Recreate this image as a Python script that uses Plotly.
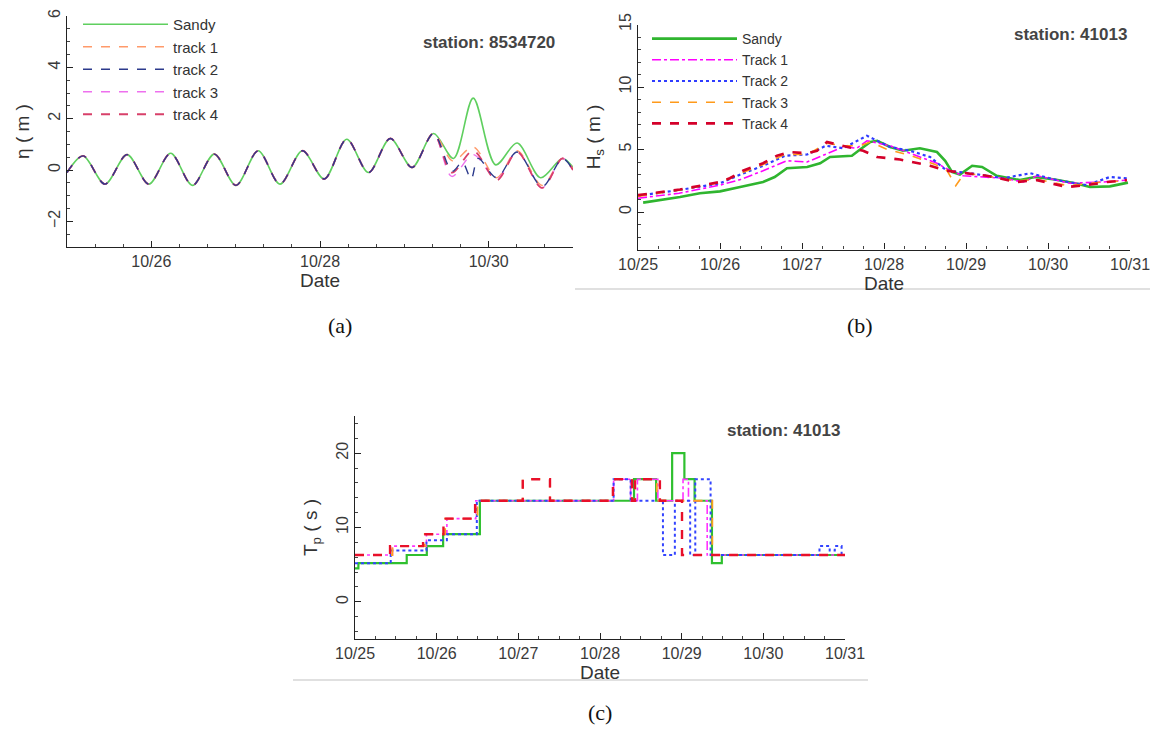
import pandas as pd
import plotly.graph_objects as go

START = pd.Timestamp("2012-10-25 00:00")
END = pd.Timestamp("2012-10-31 00:00")

# ---------------- (a) water level eta (m), station 8534720 ----------------
# hours after 10/25 00:00 and values read at tidal extrema
eta_common_hours = [0, 4.6, 10.8, 17.1, 23.3, 29.5, 35.7, 41.9, 48.1, 54.4,
                    60.6, 67.0, 73.2, 79.6, 85.8, 92.0, 98.2, 104.3]
eta_common = [-0.1, 0.55, -0.55, 0.6, -0.55, 0.65, -0.6, 0.62, -0.6, 0.75,
              -0.55, 0.75, -0.35, 1.2, -0.1, 1.23, 0.1, 1.42]

eta_sandy_hours = [110.0, 115.6, 122.0, 128.1, 134.8, 141.0, 144.0]
eta_sandy = [0.45, 2.8, 0.2, 1.05, -0.3, 0.45, 0.1]
eta_track1_hours = [109.8, 115.6, 122.3, 128.1, 135.2, 141.0, 144.0]
eta_track1 = [0.35, 0.9, -0.3, 0.75, -0.6, 0.45, 0.05]
eta_track2_hours = [109.6, 112.5, 115.0, 117.0, 122.3, 128.1, 135.2, 141.0, 144.0]
eta_track2 = [-0.05, 0.3, -0.35, 0.45, -0.3, 0.7, -0.65, 0.45, 0.0]
eta_track3_hours = [109.5, 115.6, 122.3, 128.1, 135.2, 141.0, 144.0]
eta_track3 = [-0.25, 0.6, -0.35, 0.7, -0.7, 0.45, 0.0]
eta_track4_hours = [109.5, 115.6, 122.3, 128.1, 135.2, 141.0, 144.0]
eta_track4 = [-0.1, 0.75, -0.4, 0.7, -0.7, 0.45, 0.0]

# ---------------- (b) significant wave height Hs (m), station 41013 ----------------
hs_sandy_hours = [1.5, 6.4, 12.3, 18.1, 24, 29.9, 36.6, 40, 43.6, 49.5, 53.3, 56.2, 62.6, 65,
                  68, 70, 73.8, 77.6, 82.5, 87.5, 89.9, 91.9, 94.2, 97.8, 100.7, 105, 111.8,
                  116.2, 122, 127.9, 132.3, 138.1, 143.4]
hs_sandy = [0.75, 0.95, 1.2, 1.5, 1.65, 2.0, 2.4, 2.8, 3.5, 3.6, 3.9, 4.4, 4.5, 5.0,
            5.6, 5.7, 5.2, 4.9, 5.1, 4.8, 4.1, 3.2, 3.0, 3.7, 3.6, 2.9, 2.55,
            2.8, 2.6, 2.3, 2.0, 2.05, 2.35]
hs_track1_hours = [0, 12, 24, 30, 36.6, 43.6, 49.5, 56.2, 60, 64, 67, 73.8, 79.6, 87.5,
                   91.4, 95.2, 106.9, 112.8, 116.8, 126.4, 136.1, 143.1]
hs_track1 = [1.1, 1.5, 2.15, 2.6, 3.3, 4.1, 4.0, 4.8, 5.2, 5.1, 5.7, 5.3, 4.7, 3.9,
             3.3, 2.9, 2.7, 2.4, 2.9, 2.3, 2.4, 2.55]
hs_track2_hours = [0, 12, 24, 30, 36.6, 43, 49.5, 55, 60, 64, 67, 68.5, 73.8, 79.6, 85.5,
                   90.4, 97.2, 106.9, 114.8, 122.7, 131.4, 138.1, 143.1]
hs_track2 = [1.3, 1.75, 2.3, 3.0, 3.7, 4.5, 4.6, 5.3, 5.1, 5.7, 6.1, 5.9, 5.2, 4.9, 4.4,
             3.3, 3.1, 2.7, 3.1, 2.55, 2.15, 2.8, 2.7]
hs_track3_hours = [0, 12, 24, 30, 36.6, 43, 49.5, 55.3, 60, 65, 68, 73, 80, 87, 90.5,
                   93, 95.5, 102, 110, 117, 126, 136, 143]
hs_track3 = [1.25, 1.75, 2.35, 3.1, 3.8, 4.6, 4.6, 5.5, 5.3, 5.3, 5.6, 5.0, 4.5, 3.8, 3.3,
             2.1, 3.1, 2.9, 2.5, 2.6, 2.1, 2.4, 2.5]
hs_track4_hours = [0, 12.3, 24, 26.9, 30.7, 36.6, 40.7, 44.5, 49.5, 52.4, 55.3, 60, 62.9,
                   65.9, 70, 76.7, 85.5, 90.4, 93.4, 102.1, 110.9, 116.8, 125.6, 131.4,
                   137.3, 143.1]
hs_track4 = [1.35, 1.8, 2.4, 2.7, 3.3, 3.9, 4.5, 4.8, 4.7, 4.9, 5.6, 5.3, 5.1,
             4.9, 4.4, 4.2, 3.7, 3.3, 3.2, 2.9, 2.4, 2.55, 2.0, 2.15,
             2.4, 2.55]

# ---------------- (c) peak period Tp (s), station 41013 (step changes) ----------------
tp_sandy_hours = [0, 1, 15.2, 21.1, 25.9, 36.7, 82, 88.5, 93.2, 96.8, 99.8, 104.9, 107.8, 144]
tp_sandy = [4.5, 5.2, 6.3, 7.5, 9.1, 13.6, 16.5, 13.6, 20.0, 16.5, 13.6, 5.2, 6.3, 6.3]
tp_track1_hours = [0, 11, 21, 27, 35.5, 76, 81, 83, 89, 96.4, 98, 103.5, 144]
tp_track1 = [6.3, 7.5, 9.1, 11.2, 13.6, 16.5, 13.6, 16.5, 13.6, 16.5, 13.6, 6.3, 6.3]
tp_track2_hours = [0, 10.5, 21, 27, 35.8, 76, 81, 90.5, 94, 98.5, 100, 104.5, 136.5,
                   139.5, 141, 143, 144]
tp_track2 = [5.2, 6.9, 8.3, 9.1, 13.6, 16.5, 13.6, 6.3, 13.6, 6.3, 16.5, 6.3, 7.5,
             6.9, 7.5, 6.3, 6.3]
tp_track3_hours = [0, 11, 20.5, 26.5, 36, 49.3, 57.3, 75.8, 81.4, 82.3, 88.7, 105, 144]
tp_track3 = [6.3, 7.5, 9.1, 11.2, 13.6, 16.5, 13.6, 16.5, 13.6, 16.5, 13.6, 6.3, 6.3]
tp_track4_hours = [0, 10.3, 20, 26, 35.3, 49.3, 57.3, 75.8, 81.4, 82.3, 89.6, 96.1, 144]
tp_track4 = [6.3, 7.5, 9.1, 11.2, 13.6, 16.5, 13.6, 16.5, 13.6, 16.5, 13.6, 6.3, 6.3]

names_a = ["Sandy", "track 1", "track 2", "track 3", "track 4"]
names_b = ["Sandy", "Track 1", "Track 2", "Track 3", "Track 4"]


def t(hours):
    return [START + pd.Timedelta(hours=h) for h in hours]


# the page body adds an 8 px margin; the figure is sized to fill the rest
OFF = 8
W, H = 1158 - OFF, 736 - OFF


def X(px):
    return (px - OFF) / W


def Y(py):
    return 1 - (py - OFF) / H


FONT = "Liberation Sans, Arial, sans-serif"

fig = go.Figure()

# ---- panel (a)   (track 2 drawn last so the dark dashes sit on top, as in the original)
style_a = [dict(color="#5fcf5f", width=1.6, dash="solid"),
           dict(color="#ff9a6a", width=1.4, dash="dash"),
           dict(color="#2c3a8c", width=1.4, dash="dash"),
           dict(color="#ee70ee", width=1.4, dash="dash"),
           dict(color="#d8406a", width=1.8, dash="dash")]
post_a = [(eta_sandy_hours, eta_sandy), (eta_track1_hours, eta_track1),
          (eta_track2_hours, eta_track2), (eta_track3_hours, eta_track3),
          (eta_track4_hours, eta_track4)]
for i in [0, 1, 3, 4, 2]:
    hh, vv = post_a[i]
    fig.add_trace(go.Scatter(
        x=t(eta_common_hours + hh), y=eta_common + vv, name=names_a[i], mode="lines",
        line=dict(shape="spline", smoothing=0.9, **style_a[i]), xaxis="x", yaxis="y",
        legend="legend", legendrank=i + 1))

# ---- panel (b)
style_b = [dict(color="#2fb52f", width=2.6, dash="solid"),
           dict(color="#ff00ff", width=1.6, dash="dashdot"),
           dict(color="#2f3cff", width=2.2, dash="dot"),
           dict(color="#ff9a1a", width=1.6, dash="dash"),
           dict(color="#d4002a", width=2.6, dash="dash")]
data_b = [(hs_sandy_hours, hs_sandy), (hs_track1_hours, hs_track1),
          (hs_track2_hours, hs_track2), (hs_track3_hours, hs_track3),
          (hs_track4_hours, hs_track4)]
for i, (name, st, (hh, vv)) in enumerate(zip(names_b, style_b, data_b)):
    fig.add_trace(go.Scatter(
        x=t(hh), y=vv, name=name, mode="lines", line=st,
        xaxis="x2", yaxis="y2", legend="legend2", legendrank=i + 1))

# ---- panel (c)
style_c = [dict(color="#2fc02f", width=2.2, dash="solid"),
           dict(color="#ff33ff", width=1.6, dash="dashdot"),
           dict(color="#3344ff", width=2.0, dash="dot"),
           dict(color="#ffa020", width=1.8, dash="dash"),
           dict(color="#e8102a", width=2.4, dash="dash")]
data_c = [(tp_sandy_hours, tp_sandy), (tp_track1_hours, tp_track1),
          (tp_track2_hours, tp_track2), (tp_track3_hours, tp_track3),
          (tp_track4_hours, tp_track4)]
for name, st, (hh, vv) in zip(names_b, style_c, data_c):
    fig.add_trace(go.Scatter(
        x=t(hh), y=vv, name=name, mode="lines", line=dict(shape="hv", **st),
        xaxis="x3", yaxis="y3", showlegend=False))


def xaxis(domain, anchor, dtick_days, tick0, minor_hours):
    return dict(domain=domain, anchor=anchor, type="date", range=[START, END],
                tick0=tick0, dtick=dtick_days * 86400000, tickformat="%m/%d",
                showline=True, linecolor="#222", linewidth=1.2, mirror=False,
                ticks="inside", ticklen=6, tickcolor="#222", showgrid=False,
                zeroline=False, automargin=False, ticklabeloverflow="allow",
                tickfont=dict(family=FONT, size=16, color="#3a3a3a"),
                minor=dict(ticks="inside", ticklen=3, tickcolor="#444",
                           dtick=minor_hours * 3600000, showgrid=False),
                title=dict(text="Date", font=dict(family=FONT, size=19, color="#333"),
                           standoff=0))


def yaxis(domain, anchor, rng, dtick, minor, title):
    return dict(domain=domain, anchor=anchor, range=rng, dtick=dtick, tick0=0,
                tickangle=-90, showline=True, linecolor="#222", linewidth=1.2,
                mirror=False, ticks="inside", ticklen=6, tickcolor="#222",
                showgrid=False, zeroline=False, automargin=False,
                ticklabeloverflow="allow",
                tickfont=dict(family=FONT, size=16, color="#3a3a3a"),
                minor=dict(ticks="inside", ticklen=3, tickcolor="#444", dtick=minor,
                           showgrid=False),
                title=dict(text=title, font=dict(family=FONT, size=19, color="#333"),
                           standoff=10))


fig.update_layout(
    width=W, height=H, margin=dict(l=0, r=0, t=0, b=0, autoexpand=False),
    paper_bgcolor="white", plot_bgcolor="white",
    xaxis=xaxis([X(67), X(573)], "y", 2, "2012-10-26", 8),
    yaxis=yaxis([Y(247), Y(16)], "x", [-3, 6], 2, 0.5, "η ( m )"),
    xaxis2=xaxis([X(638), X(1130)], "y2", 1, "2012-10-25", 6),
    yaxis2=yaxis([Y(249.5), Y(24.5)], "x2", [-3, 15], 5, 1, "H<sub>s</sub> ( m )"),
    xaxis3=xaxis([X(355), X(845)], "y3", 1, "2012-10-25", 6),
    yaxis3=yaxis([Y(639), Y(416)], "x3", [-5, 25], 10, 2, "T<sub>p</sub> ( s )"),
    legend=dict(x=X(78), y=Y(8), xanchor="left", yanchor="top",
                bgcolor="rgba(0,0,0,0)", font=dict(family=FONT, size=15, color="#333"),
                itemwidth=85, tracegroupgap=0),
    legend2=dict(x=X(647), y=Y(23), xanchor="left", yanchor="top",
                 bgcolor="rgba(0,0,0,0)", font=dict(family=FONT, size=14, color="#333"),
                 itemwidth=85, tracegroupgap=0),
    showlegend=True,
)

annos = [
    dict(text="<b>station: 8534720</b>", x=X(489), y=Y(42)),
    dict(text="<b>station: 41013</b>", x=X(1070), y=Y(35)),
    dict(text="<b>station: 41013</b>", x=X(783), y=Y(430)),
]
for a in annos:
    fig.add_annotation(text=a["text"], x=a["x"], y=a["y"], xref="paper", yref="paper",
                       showarrow=False, xanchor="center", yanchor="middle",
                       font=dict(family=FONT, size=17, color="#444"))

for lab, x, y in [("(a)", 340, 325), ("(b)", 860, 325), ("(c)", 600, 712)]:
    fig.add_annotation(text=lab, x=X(x), y=Y(y), xref="paper", yref="paper",
                       showarrow=False, xanchor="center", yanchor="middle",
                       font=dict(family="Liberation Serif, Times New Roman, serif",
                                 size=22, color="#111"))

# light frame lines under panels (b) and (c)
fig.add_shape(type="line", xref="paper", yref="paper", x0=X(575), x1=X(1150),
              y0=Y(289), y1=Y(289), line=dict(color="#d6d6d6", width=1.5))
fig.add_shape(type="line", xref="paper", yref="paper", x0=X(293), x1=X(868),
              y0=Y(680), y1=Y(680), line=dict(color="#d6d6d6", width=1.5))

fig.write_html("out.html")
